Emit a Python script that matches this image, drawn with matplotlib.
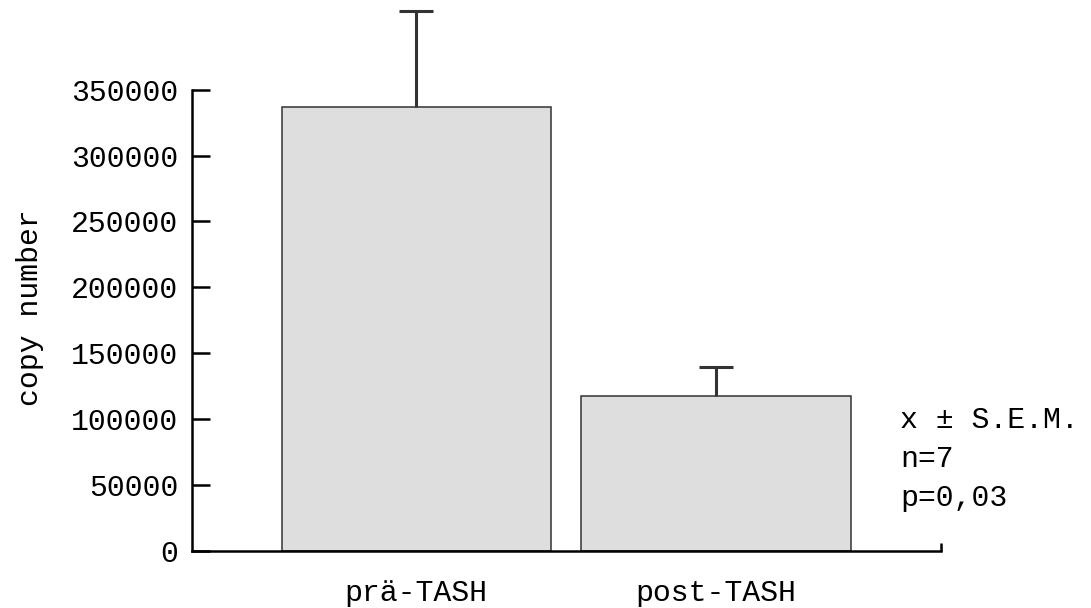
import numpy as np
import matplotlib
matplotlib.use("Agg")
import matplotlib.pyplot as plt

# werte
gruppen = ["prä-TASH", "post-TASH"]
mittel = [337000, 117500]
sem = [73000, 22000]
yticks = [0, 50000, 100000, 150000, 200000, 250000, 300000, 350000]
info = ["x \u00b1 S.E.M.", "n=7", "p=0,03"]

plt.rcParams["font.family"] = ["Liberation Mono", "DejaVu Sans Mono"]
plt.rcParams["font.size"] = 21.5

fig = plt.figure(figsize=(10.91, 6.08), dpi=100)
ax = fig.add_axes([0.176, 0.0938, 0.8625 - 0.176, 0.8997])

x = np.arange(len(gruppen))
ax.bar(x, mittel, width=0.897, color="#dedede", edgecolor="#333333", linewidth=1.1, zorder=2)
eb = ax.errorbar(x, mittel, yerr=[np.zeros(len(sem)), sem], fmt="none", ecolor="#333333",
                 elinewidth=2.2, capsize=12.5, capthick=2.2, zorder=3)
# nur obere kappe zeigen
for cap in eb[1]:
    if np.allclose(cap.get_ydata(), mittel):
        cap.set_visible(False)

ax.set_xlim(-0.747, 1.75)
ax.set_ylim(0, 415000)
ax.set_yticks(yticks)
ax.set_yticklabels([str(v) for v in yticks])
ax.set_xticks(x)
ax.set_xticklabels(gruppen)
ax.set_xticks([1.75], minor=True)

for s in ["top", "right"]:
    ax.spines[s].set_visible(False)
ax.spines["left"].set_bounds(0, 350000)
ax.spines["left"].set_linewidth(1.8)
ax.spines["bottom"].set_linewidth(1.8)

ax.tick_params(axis="y", direction="in", length=13, width=1.8, pad=10)
ax.tick_params(axis="x", which="major", length=0, pad=20)
ax.tick_params(axis="x", which="minor", direction="in", length=6, width=1.8)

ax.set_ylabel("copy number")
ax.yaxis.set_label_coords(-0.198, 0.444)

for i, t in enumerate(info):
    fig.text(900 / 1091, 1 - (420 + 39 * i) / 608, t, ha="left", va="center")

fig.savefig("out.png", dpi=100)
